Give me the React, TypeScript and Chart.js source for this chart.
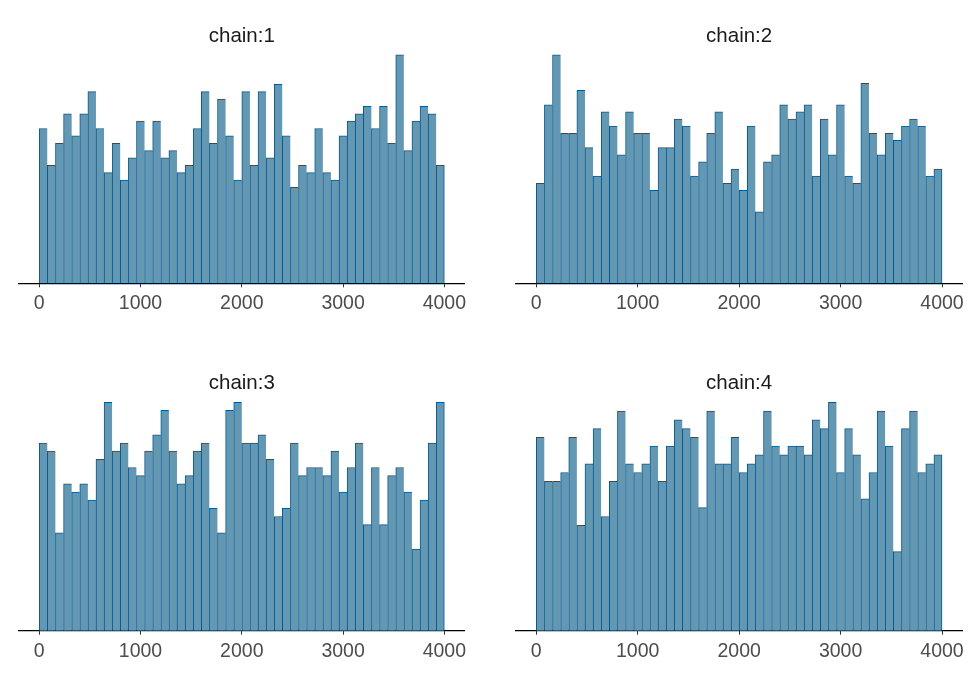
import React, { useEffect, useRef } from 'react';
import { Chart, registerables } from 'chart.js';

Chart.register(...registerables);

// Rank histogram counts (50 bins of width 80 over 0..4000), one array per chain
const chain1 = [
  21, 16, 19, 23, 20, 23, 26, 21, 15, 19,
  14, 17, 22, 18, 22, 17, 18, 15, 16, 21,
  26, 19, 25, 20, 14, 26, 16, 26, 17, 27,
  20, 13, 16, 15, 21, 15, 14, 20, 22, 23,
  24, 21, 24, 19, 31, 18, 22, 24, 23, 16,
];
const chain2 = [
  14, 25, 32, 21, 21, 27, 19, 15, 24, 22,
  18, 24, 21, 21, 13, 19, 19, 23, 22, 15,
  17, 21, 24, 14, 16, 13, 22, 10, 17, 18,
  25, 23, 24, 25, 15, 23, 18, 25, 15, 14,
  28, 21, 18, 21, 20, 22, 23, 22, 15, 16,
];
const chain3 = [
  23, 22, 12, 18, 17, 18, 16, 21, 28, 22,
  23, 20, 19, 22, 24, 27, 22, 18, 19, 22,
  23, 15, 12, 27, 28, 23, 23, 24, 21, 14,
  15, 23, 19, 20, 20, 19, 22, 17, 20, 23,
  13, 20, 13, 19, 20, 17, 10, 16, 23, 28,
];
const chain4 = [
  22, 17, 17, 18, 22, 12, 19, 23, 13, 17,
  25, 19, 18, 19, 21, 17, 21, 24, 23, 22,
  14, 25, 19, 19, 22, 18, 19, 20, 25, 21,
  20, 21, 21, 20, 24, 23, 26, 18, 23, 20,
  15, 18, 25, 21, 9, 23, 25, 18, 19, 20,
];

const panelTitles = ['chain:1', 'chain:2', 'chain:3', 'chain:4'];
const xTickValues = [0, 1000, 2000, 3000, 4000];
const RANK_MAX = 4000;

const FONT = '"Liberation Sans", Arial, sans-serif';
const FILL = '#6497b1';
const OUTLINE = '#005b96';

const titlePlugin = {
  id: 'panelTitle',
  afterDraw(chart: any, _args: any, opts: any) {
    const { ctx, chartArea } = chart;
    ctx.save();
    ctx.font = `20.5px ${FONT}`;
    ctx.fillStyle = '#1a1a1a';
    ctx.textAlign = 'center';
    ctx.textBaseline = 'alphabetic';
    ctx.fillText(opts.text, (chartArea.left + chartArea.right) / 2, opts.y);
    ctx.restore();
  },
};

type PanelProps = {
  counts: number[];
  title: string;
  left: number;
  top: number;
  width: number;
  height: number;
  pad: { left: number; right: number; top: number; bottom: number };
  titleY: number;
};

function Panel({ counts, title, left, top, width, height, pad, titleY }: PanelProps) {
  const ref = useRef<HTMLCanvasElement>(null);
  useEffect(() => {
    if (!ref.current) return;
    const binWidth = RANK_MAX / counts.length;
    const ymax = Math.max(...counts) * 1.05;
    const last = counts.length - 1;
    const chart = new Chart(ref.current, {
      type: 'bar',
      data: {
        datasets: [
          {
            data: counts.map((c, i) => ({ x: i * binWidth + binWidth / 2, y: c })),
            backgroundColor: FILL,
            borderColor: OUTLINE,
            borderWidth: (ctx: any) => ({
              left: 1,
              top: 1,
              right: ctx.dataIndex === last ? 1 : 0,
              bottom: 0,
            }),
            borderSkipped: false,
            barPercentage: 1,
            categoryPercentage: 1,
          } as any,
        ],
      },
      options: {
        responsive: false,
        animation: false,
        devicePixelRatio: 1,
        layout: { padding: pad },
        plugins: {
          legend: { display: false },
          tooltip: { enabled: false },
          panelTitle: { text: title, y: titleY },
        } as any,
        scales: {
          x: {
            type: 'linear',
            min: -RANK_MAX * 0.05,
            max: RANK_MAX * 1.05,
            offset: false,
            z: 1,
            afterBuildTicks: (s: any) => {
              s.ticks = xTickValues.map((v) => ({ value: v }));
            },
            afterFit: (s: any) => {
              s.height = 40;
            },
            grid: {
              display: true,
              offset: false,
              drawOnChartArea: false,
              drawTicks: true,
              tickLength: 4,
              color: '#333333',
              lineWidth: 1,
            },
            border: { display: true, color: '#000000', width: 1.2 },
            ticks: {
              padding: 5,
              color: '#4d4d4d',
              font: { family: FONT, size: 19.5 },
              maxRotation: 0,
              autoSkip: false,
              callback: (v: any) => String(v),
            },
          },
          y: { display: false, min: 0, max: ymax },
        },
      } as any,
      plugins: [titlePlugin],
    });
    return () => chart.destroy();
  }, [counts, title]);
  return (
    <canvas
      ref={ref}
      width={width}
      height={height}
      style={{ position: 'absolute', left, top, width, height }}
    />
  );
}

export default function App() {
  const row1 = { top: 0, height: 337, padTop: 43.3, padBottom: 13.7, titleY: 41.7 };
  const row2 = { top: 337, height: 338, padTop: 53.8, padBottom: 4.3, titleY: 52.1 };
  const col1 = { left: 0, width: 487, padLeft: 19, padRight: 22.4 };
  const col2 = { left: 487, width: 488, padLeft: 29, padRight: 12.7 };
  const cells = [
    { counts: chain1, row: row1, col: col1 },
    { counts: chain2, row: row1, col: col2 },
    { counts: chain3, row: row2, col: col1 },
    { counts: chain4, row: row2, col: col2 },
  ];
  return (
    <div
      style={{
        position: 'fixed',
        left: 0,
        top: 0,
        width: 975,
        height: 675,
        background: '#ffffff',
      }}
    >
      {cells.map((c, i) => (
        <Panel
          key={i}
          counts={c.counts}
          title={panelTitles[i]}
          left={c.col.left}
          top={c.row.top}
          width={c.col.width}
          height={c.row.height}
          titleY={c.row.titleY}
          pad={{
            left: c.col.padLeft,
            right: c.col.padRight,
            top: c.row.padTop,
            bottom: c.row.padBottom,
          }}
        />
      ))}
    </div>
  );
}
